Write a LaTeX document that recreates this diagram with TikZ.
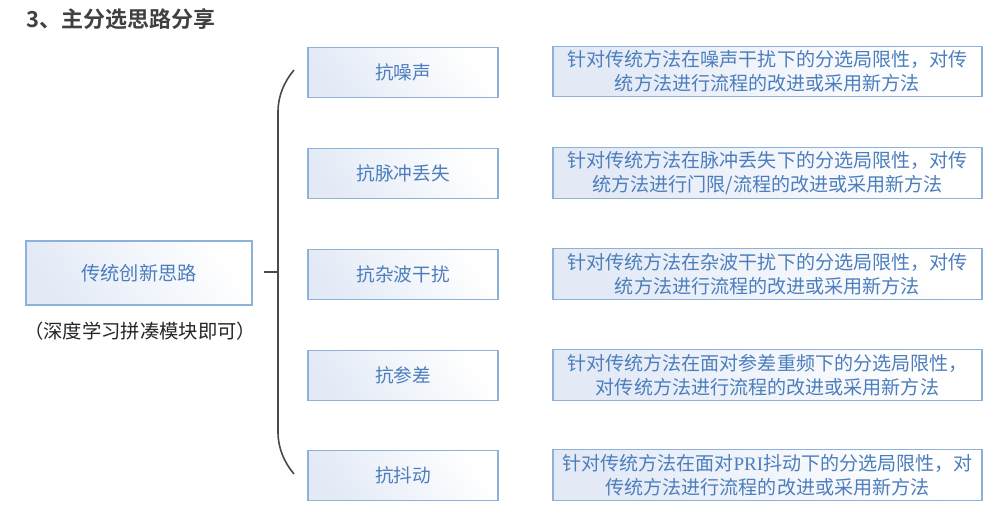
\documentclass[tikz,border=0pt]{standalone}
\usepackage{fontspec}
\setmainfont{Noto Sans CJK SC}[BoldFont=* Bold]
\newfontfamily\latinserif{Liberation Serif}
\begin{document}
\begin{tikzpicture}[x=0.75pt,y=-0.75pt,
  box/.style={draw=boxline, line width=0.9pt, shade, left color=boxfill, right color=white, shading angle=125, inner sep=0pt, text=boxtext},
  midbox/.style={box, minimum width=142.5pt, minimum height=37pt, font=\fontsize{14}{18}\selectfont},
  descbox/.style={box, minimum width=321.75pt, minimum height=38pt, align=center, font=\fontsize{14.3}{18}\selectfont},
  brace/.style={draw=bracecol, line width=1.2pt}
]
\definecolor{boxline}{HTML}{8DB2DA}
\definecolor{boxfill}{HTML}{E3EAF6}
\definecolor{boxtext}{HTML}{4C7EBD}
\definecolor{bracecol}{HTML}{4A4A4A}
\definecolor{titlecol}{HTML}{404040}
\useasboundingbox (0,0) rectangle (994,520);
\fill[white] (0,0) rectangle (994,520);

\node[anchor=west, text=titlecol, font=\bfseries\fontsize{16.5}{20}\selectfont] (title) at (22,19) {3、主分选思路分享};

\node[box, minimum width=169.5pt, minimum height=48pt, font=\fontsize{14.4}{18}\selectfont] (root) at (139,273) {传统创新思路};
\node[text=black!85, font=\fontsize{14.5}{18}\selectfont] (note) at (140,331) {（深度学习拼凑模块即可）};

\node[midbox] (m1) at (403,72.5) {抗噪声};
\node[midbox] (m2) at (403,173.5) {抗脉冲丢失};
\node[midbox] (m3) at (403,274.5) {抗杂波干扰};
\node[midbox] (m4) at (403,375.5) {抗参差};
\node[midbox] (m5) at (403,475.5) {抗抖动};

\node[descbox] (d1) at (767.5,71.5) {针对传统方法在噪声干扰下的分选局限性，对传\\统方法进行流程的改进或采用新方法};
\node[descbox] (d2) at (767.5,173) {针对传统方法在脉冲丢失下的分选局限性，对传\\统方法进行门限/流程的改进或采用新方法};
\node[descbox] (d3) at (767.5,274) {针对传统方法在杂波干扰下的分选局限性，对传\\统方法进行流程的改进或采用新方法};
\node[descbox] (d4) at (767.5,375) {针对传统方法在面对参差重频下的分选局限性，\\对传统方法进行流程的改进或采用新方法};
\node[descbox] (d5) at (767.5,475) {针对传统方法在面对{\latinserif PRI}抖动下的分选局限性，对\\传统方法进行流程的改进或采用新方法};

\coordinate (bt) at (294,70);
\coordinate (bb) at (294,474);
\coordinate (bm) at (278,272);
\draw[brace] (bt) .. controls (284,82) and (278,96) .. (278,112) -- (278,432) .. controls (278,448) and (284,462) .. (bb);
\draw[brace] ([xshift=8.25pt]root.east |- bm) -- (bm);
\end{tikzpicture}
\end{document}
